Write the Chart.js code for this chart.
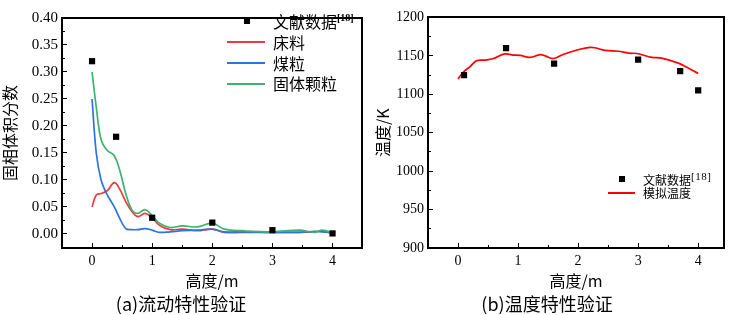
<!DOCTYPE html>
<html>
<head>
<meta charset="utf-8">
<script src="https://cdn.jsdelivr.net/npm/chart.js@4.4.1/dist/chart.umd.min.js"></script>
<style>
  body { margin: 0; background: #fff; }
  #wrap { position: relative; width: 730px; height: 315px; overflow: hidden; }
  canvas { position: absolute; top: 0; }
  .key { position: absolute; color: #000; white-space: nowrap; line-height: 1;
         font-family: "Noto Sans CJK SC", "Liberation Serif", sans-serif; }
  .dot { position: absolute; background: #000; }
  .stroke { position: absolute; height: 2px; }
  .sup { position: relative; font-family: "Liberation Serif", serif; }
</style>
</head>
<body>
<div id="wrap">
  <canvas id="flowChart" width="370" height="315" style="left:0"></canvas>
  <canvas id="tempChart" width="360" height="315" style="left:370px"></canvas>

  <!-- legend (a) -->
  <div class="dot" style="left:244px;top:18px;width:6px;height:6px"></div>
  <div class="key" style="left:273px;top:13px;font-size:16px">文献数据<span class="sup" style="font-size:10px;font-weight:bold;top:-7px">[18]</span></div>
  <div class="stroke" style="left:227px;top:41px;width:38px;background:#ef3b3b"></div>
  <div class="key" style="left:273px;top:34px;font-size:16px">床料</div>
  <div class="stroke" style="left:227px;top:62px;width:38px;background:#2f73de"></div>
  <div class="key" style="left:273px;top:55px;font-size:16px">煤粒</div>
  <div class="stroke" style="left:227px;top:83px;width:38px;background:#3cb36e"></div>
  <div class="key" style="left:273px;top:75px;font-size:16px">固体颗粒</div>

  <!-- legend (b) -->
  <div class="dot" style="left:619px;top:176px;width:6px;height:6px"></div>
  <div class="key" style="left:643px;top:174px;font-size:12px">文献数据<span class="sup" style="font-size:11px;letter-spacing:0.5px;top:-5px">[18]</span></div>
  <div class="stroke" style="left:608px;top:192px;width:27px;background:#ff0000"></div>
  <div class="key" style="left:643px;top:187px;font-size:12px">模拟温度</div>
</div>

<script>
// (a) flow: solid volume fraction vs height
const height = [0, 0.07, 0.15, 0.25, 0.37, 0.46, 0.56, 0.66, 0.76, 0.88, 1.0, 1.12,
                1.3, 1.5, 1.75, 2.0, 2.2, 2.5, 3.0, 3.45, 3.7, 3.83, 4.0];
const bedFraction = [0.050, 0.072, 0.075, 0.080, 0.095, 0.083, 0.060, 0.042, 0.032, 0.038, 0.030, 0.016,
                     0.008, 0.009, 0.006, 0.009, 0.003, 0.003, 0.003, 0.003, 0.004, 0.005, 0.001];
const coalFraction = [0.250, 0.150, 0.100, 0.073, 0.050, 0.029, 0.010, 0.008, 0.008, 0.010, 0.007, 0.003,
                      0.004, 0.006, 0.007, 0.009, 0.004, 0.004, 0.003, 0.003, 0.005, 0.004, 0.002];
const solidFraction = [0.300, 0.235, 0.175, 0.155, 0.145, 0.118, 0.075, 0.045, 0.038, 0.045, 0.034, 0.020,
                       0.012, 0.015, 0.013, 0.020, 0.009, 0.006, 0.004, 0.007, 0.003, 0.007, 0.002];
const refHeight = [0, 0.4, 1, 2, 3, 4];
const refFraction = [0.32, 0.18, 0.03, 0.021, 0.007, 0.001];

// (b) temperature vs height
const simHeight = [0, 0.09, 0.2, 0.31, 0.45, 0.59, 0.78, 0.92, 1.03, 1.2, 1.37, 1.45, 1.59,
                   1.76, 2.03, 2.2, 2.28, 2.45, 2.67, 2.84, 2.98, 3.23, 3.39, 3.67, 3.84, 4.0];
const simTemp = [1120, 1129, 1136, 1143.5, 1144.5, 1146.5, 1152.5, 1151, 1150.5, 1148, 1151.5, 1150, 1146.5,
                 1152, 1158.5, 1161, 1160.5, 1157, 1156, 1153.5, 1153, 1148, 1147, 1140.5, 1134, 1127];
const refTempHeight = [0.1, 0.8, 1.6, 3.0, 3.7, 4.0];
const refTemp = [1125, 1160, 1140, 1145, 1130, 1105];

const serif = '"Liberation Serif", "Noto Sans CJK SC", serif';
const cjk = '"Noto Sans CJK SC", "Liberation Serif", sans-serif';
Chart.defaults.color = '#000';

function pts(xs, ys) {
  return xs.map((x, i) => ({ x: x, y: ys[i] }));
}

function curve(label, xs, ys, color) {
  return { label: label, data: pts(xs, ys), showLine: true, borderColor: color,
           borderWidth: 1.7, pointRadius: 0, tension: 0.4, fill: false };
}

function marks(label, xs, ys) {
  return { label: label, data: pts(xs, ys), showLine: false, pointStyle: 'rect',
           pointRadius: 4.4, backgroundColor: '#000', borderColor: '#000', borderWidth: 0 };
}

// main axis with labels and long inward ticks
function mainAxis(pos, min, max, step, size, fmt, title, titlePad, fontSize) {
  return {
    type: 'linear', position: pos, min: min, max: max, weight: 1,
    afterFit: s => { if (pos === 'left') s.width = size; else s.height = size; },
    ticks: { stepSize: step, includeBounds: false, padding: pos === 'left' ? 9 : 10,
             font: { family: serif, size: fontSize }, callback: fmt },
    grid: { drawOnChartArea: false, tickLength: -5, tickColor: '#000', tickWidth: 1 },
    border: { display: true, color: '#000', width: 2 },
    title: { display: true, text: title, font: { family: cjk, size: 16 }, padding: titlePad }
  };
}

// extra axis used only for short minor ticks
function minorAxis(pos, min, max, step) {
  return {
    type: 'linear', position: pos, min: min, max: max, weight: 0,
    afterFit: s => { if (pos === 'left') s.width = 0; else s.height = 0; },
    ticks: { stepSize: step, includeBounds: false, display: false },
    grid: { drawOnChartArea: false, tickLength: -3, tickColor: '#000', tickWidth: 1 },
    border: { display: false }
  };
}

// top / right frame lines
function frameAxis(pos) {
  return {
    type: 'linear', position: pos,
    afterFit: s => { if (pos === 'right') s.width = 0; else s.height = 0; },
    ticks: { display: false },
    grid: { drawOnChartArea: false, drawTicks: false },
    border: { display: true, color: '#000', width: 2 }
  };
}

function caption(text) {
  return { display: true, position: 'bottom', text: text, color: '#000',
           font: { family: cjk, size: 18, weight: 'normal' }, padding: { top: 0, bottom: 0 } };
}

new Chart(document.getElementById('flowChart'), {
  type: 'scatter',
  data: {
    datasets: [
      marks('文献数据', refHeight, refFraction),
      curve('固体颗粒', height, solidFraction, '#3cb36e'),
      curve('煤粒', height, coalFraction, '#2f73de'),
      curve('床料', height, bedFraction, '#ef3b3b')
    ]
  },
  options: {
    responsive: false,
    animation: false,
    layout: { padding: { left: 0, right: 8, top: 5, bottom: 0 } },
    plugins: { legend: { display: false }, tooltip: { enabled: false }, title: caption('(a)流动特性验证') },
    scales: {
      x: mainAxis('bottom', -0.5, 4.49, 1, 45.4, v => String(v), '高度/m', { top: 0, bottom: 3 }, 14),
      xm: minorAxis('bottom', -0.5, 4.49, 0.5),
      y: mainAxis('left', -0.026, 0.40, 0.05, 62, v => v.toFixed(2), '固相体积分数', { top: 0, bottom: 0 }, 15),
      ym: minorAxis('left', -0.026, 0.40, 0.025),
      xt: frameAxis('top'),
      yr: frameAxis('right')
    }
  }
});

new Chart(document.getElementById('tempChart'), {
  type: 'scatter',
  data: {
    datasets: [
      marks('文献数据', refTempHeight, refTemp),
      curve('模拟温度', simHeight, simTemp, '#ff0000')
    ]
  },
  options: {
    responsive: false,
    animation: false,
    layout: { padding: { left: 0, right: 6, top: 5, bottom: 0 } },
    plugins: { legend: { display: false }, tooltip: { enabled: false }, title: caption('(b)温度特性验证') },
    scales: {
      x: mainAxis('bottom', -0.5, 4.43, 1, 45.4, v => String(v), '高度/m', { top: 0, bottom: 3 }, 14),
      xm: minorAxis('bottom', -0.5, 4.43, 0.5),
      y: mainAxis('left', 900, 1200, 50, 58, v => String(v), '温度/K', { top: 3, bottom: 0 }, 14),
      ym: minorAxis('left', 900, 1200, 25),
      xt: frameAxis('top'),
      yr: frameAxis('right')
    }
  }
});
</script>
</body>
</html>
